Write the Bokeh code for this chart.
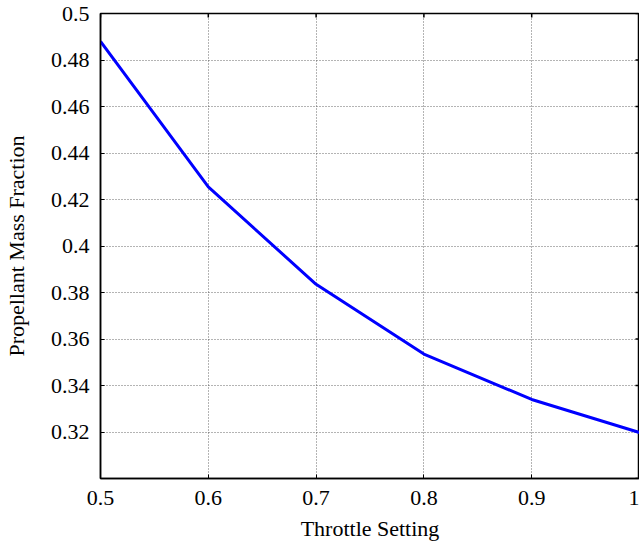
import math
from bokeh.plotting import figure
from bokeh.models import FixedTicker, CustomJSTickFormatter, Range1d
from bokeh.embed import file_html
from bokeh.resources import INLINE

# Propellant mass fraction versus throttle setting
throttle = [0.5, 0.6, 0.7, 0.8, 0.9, 1.0]
mass_fraction = [0.488, 0.4254, 0.3835, 0.3535, 0.334, 0.3198]

x_ticks = [0.5, 0.6, 0.7, 0.8, 0.9, 1.0]
y_ticks = [0.30, 0.32, 0.34, 0.36, 0.38, 0.40, 0.42, 0.44, 0.46, 0.48, 0.50]

X_MIN, X_MAX = 0.5, 1.0
Y_MIN, Y_MAX = 0.3, 0.5

FONT = "Liberation Serif"
FS = "22px"

p = figure(width=639, height=543, output_backend="svg", toolbar_location=None,
           x_range=Range1d(X_MIN, X_MAX), y_range=Range1d(Y_MIN, Y_MAX),
           min_border_left=100, min_border_right=0, min_border_top=13,
           min_border_bottom=64)
p.background_fill_color = "white"
p.border_fill_color = "white"
p.outline_line_color = "black"
p.outline_line_width = 1.5

fmt = CustomJSTickFormatter(code="""
    if (Math.abs(tick - 0.3) < 1e-9) { return ""; }
    let s = tick.toFixed(2);
    s = s.replace(/0+$/, "").replace(/\\.$/, "");
    return s;
""")

for ax in (p.xaxis[0], p.yaxis[0]):
    ax.major_label_text_font = FONT
    ax.major_label_text_font_size = FS
    ax.major_label_text_color = "black"
    ax.axis_label_text_font = FONT
    ax.axis_label_text_font_size = FS
    ax.axis_label_text_font_style = "normal"
    ax.axis_label_text_color = "black"
    ax.axis_line_color = "black"
    ax.axis_line_width = 1.5
    ax.major_tick_in = 4
    ax.major_tick_out = 0
    ax.major_tick_line_color = "black"
    ax.minor_tick_line_color = None
    ax.formatter = fmt

p.xaxis[0].ticker = FixedTicker(ticks=x_ticks)
p.yaxis[0].ticker = FixedTicker(ticks=y_ticks)
p.xaxis[0].axis_label = "Throttle Setting"
p.yaxis[0].axis_label = "Propellant Mass Fraction"
p.xaxis[0].major_label_standoff = 12
p.yaxis[0].major_label_standoff = 11
p.xaxis[0].axis_label_standoff = 8
p.yaxis[0].axis_label_standoff = 19

for g in (p.xgrid[0], p.ygrid[0]):
    g.grid_line_color = "#444444"
    g.grid_line_dash = "1 2"
    g.grid_line_width = 1
    g.grid_line_alpha = 0.8

# inward tick marks on the top and right frame edges (half of each dash is clipped)
p.scatter([x for x in x_ticks], [Y_MAX] * len(x_ticks), marker="dash", size=8,
          angle=math.pi / 2, line_color="black", line_width=1.5)
p.scatter([X_MAX] * len(y_ticks), [y for y in y_ticks], marker="dash", size=8,
          line_color="black", line_width=1.5)

p.line(throttle, mass_fraction, line_color="#0000ff", line_width=3)

open("out.html", "w").write(file_html(p, INLINE))
